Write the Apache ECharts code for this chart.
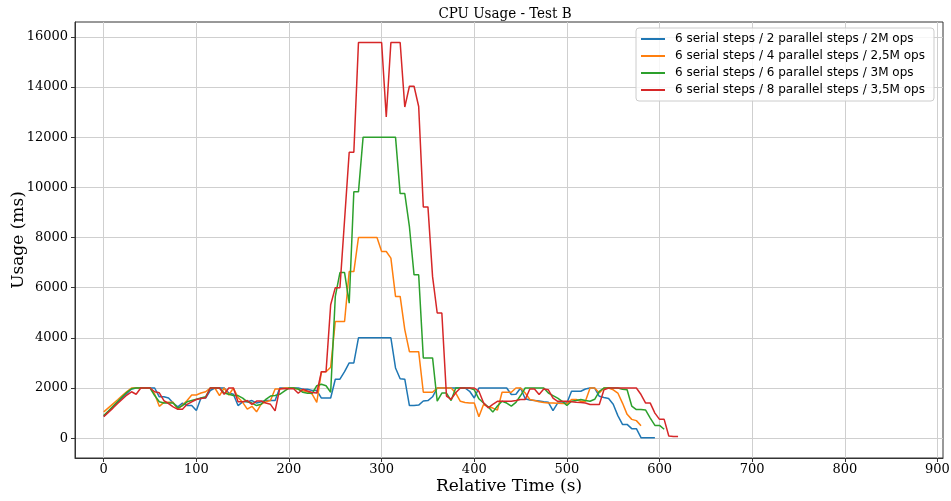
<!DOCTYPE html>
<html>
<head>
<meta charset="utf-8">
<script src="https://cdn.jsdelivr.net/npm/echarts@6/dist/echarts.min.js"></script>
<style>html,body{margin:0;padding:0;background:#fff}#c{width:951px;height:501px}</style>
</head>
<body>
<div id="c"></div>
<script>
const times = [0,5,10,15,20,25,30,35,40,45,50,55,60,65,70,75,80,85,90,95,100,105,110,115,120,125,130,135,140,145,150,155,160,165,170,175,180,185,190,195,200,205,210,215,220,225,230,235,240,245,250,255,260,265,270,275,280,285,290,295,300,305,310,315,320,325,330,335,340,345,350,355,360,365,370,375,380,385,390,395,400,405,410,415,420,425,430,435,440,445,450,455,460,465,470,475,480,485,490,495,500,505,510,515,520,525,530,535,540,545,550,555,560,565,570,575,580,585,590,595,600,605,610,615,620];

const seriesNames = [
  "6 serial steps / 2 parallel steps / 2M ops",
  "6 serial steps / 4 parallel steps / 2,5M ops",
  "6 serial steps / 6 parallel steps / 3M ops",
  "6 serial steps / 8 parallel steps / 3,5M ops"
];

const blue = [870,1050,1240,1420,1600,1780,1960,
  2000,2000,2000,2000,2000,
  1650,1650,1600,1400,1250,1400,1300,1300,1100,
  1600,1600,1900,2000,2000,2000,1800,1750,1300,
  1450,1450,1500,1400,1450,1500,1500,1500,2000,
  2000,2000,2000,2000,1950,1950,1900,1900,1600,
  1600,1600,2350,2350,2650,3000,3000,4000,4000,
  4000,4000,4000,4000,4000,4000,2800,2370,2350,
  1300,1300,1320,1480,1500,1650,2000,2000,2000,
  2000,2000,2000,2000,1870,1600,2000,2000,2000,
  2000,2000,2000,2000,1740,1750,2000,1570,1520,
  1500,1480,1450,1430,1100,1400,1400,1400,1870,
  1870,1870,1960,2000,2000,1670,1620,1580,1350,
  900,550,550,380,380,20,20,20,20];

const orange = [1050,1210,1370,1530,1700,1860,2000,
  2000,2000,2000,2000,1760,
  1270,1430,1430,1430,1160,1320,1500,1720,1720,
  1800,1850,2000,2000,1700,2000,1720,2000,1620,
  1430,1160,1270,1050,1360,1450,1500,1960,1960,
  2000,2000,2000,1950,1890,1850,1760,1430,2650,
  2650,2830,4650,4650,4650,6640,6640,8000,8000,
  8000,8000,8000,7440,7440,7180,5650,5650,4330,
  3450,3450,3450,1830,1830,1830,2000,2000,2000,
  2000,1800,1470,1420,1400,1400,855,1340,1250,
  1200,1120,1830,1830,1830,2000,2000,1800,1540,
  1500,1450,1420,1400,1400,1390,1380,1380,1540,
  1540,1470,1470,2000,2000,1800,2000,2000,1930,
  1800,1400,950,750,700,500];

const green = [900,1080,1270,1460,1650,1830,1970,
  2000,2000,2000,2000,1700,
  1450,1400,1400,1400,1200,1300,1450,1500,1550,
  1600,1650,2000,2000,2000,1800,1750,1700,1700,
  1600,1450,1400,1300,1350,1550,1680,1700,1750,
  1880,2000,2000,1960,1830,1790,1790,2090,2150,
  2090,1830,5650,6600,6600,5380,9820,9820,12000,
  12000,12000,12000,12000,12000,12000,12000,9750,9750,
  8430,6510,6510,3200,3200,3200,1480,1800,1800,
  1500,2000,2000,2000,2000,1930,1570,1400,1250,
  1040,1280,1470,1400,1280,1430,1700,2000,2000,
  2000,2000,2000,1800,1700,1600,1470,1300,1470,
  1500,1540,1500,1470,1550,1870,2000,2000,2000,
  2000,1950,1930,1280,1140,1140,1120,800,510,510,355];

const red = [860,1030,1200,1380,1550,1720,1850,
  1750,2000,2000,2000,1850,
  1810,1500,1380,1250,1150,1150,1350,1450,1540,
  1580,1610,2000,2000,2000,1750,2000,2000,1450,
  1450,1500,1350,1480,1480,1400,1350,1090,1970,
  1970,1970,1970,1790,1950,1880,1820,1800,2650,
  2650,5320,6000,6000,8700,11400,11400,15770,15770,
  15770,15770,15770,15770,12800,15770,15770,15770,13200,
  14030,14030,13220,9220,9220,6440,4990,4990,1680,
  1550,1810,2000,2000,2000,2000,1870,1410,1210,
  1350,1470,1470,1470,1470,1500,1540,1540,1960,
  1960,1740,1960,1930,1600,1470,1470,1470,1450,
  1430,1420,1400,1340,1340,1340,1930,2000,2000,
  2000,2000,2000,2000,2000,1740,1400,1400,1000,
  750,750,90,65,65];

const xTicks = [0,100,200,300,400,500,600,700,800,900];
const yTicks = [0,2000,4000,6000,8000,10000,12000,14000,16000];
const colors = ['#1f77b4','#ff7f0e','#2ca02c','#d62728'];
const allValues = [blue, orange, green, red];

const chart = echarts.init(document.getElementById('c'), null, {renderer:'canvas'});
const serif = 'DejaVu Serif';
const option = {
  animation: false,
  backgroundColor: '#ffffff',
  color: colors,
  title: {
    text: 'CPU Usage - Test B',
    left: 500, top: 2, textAlign: 'center',
    textStyle: {fontFamily: 'DejaVu Serif Condensed, DejaVu Serif', fontSize: 15, fontWeight: 'normal', color: '#000'}
  },
  legend: {
    orient: 'vertical',
    left: 636, top: 28,
    padding: [4, 9, 4, 5],
    itemGap: 3,
    itemWidth: 24, itemHeight: 2,
    icon: 'rect',
    borderColor: '#cccccc', borderWidth: 1, borderRadius: 3,
    backgroundColor: 'rgba(255,255,255,0.8)',
    textStyle: {fontFamily: 'DejaVu Sans', fontSize: 12, color: '#000', lineHeight: 14, padding: [0,0,0,5]},
    data: seriesNames
  },
  grid: {left: 75, right: 8, top: 22, bottom: 43, containLabel: false, outerBoundsMode: 'none', show: true, borderColor: '#333', borderWidth: 1},
  xAxis: {
    type: 'value', min: -31, max: 906,
    name: 'Relative Time (s)', nameLocation: 'middle', nameGap: 20, nameMoveOverlap: false,
    nameTextStyle: {fontFamily: serif, fontSize: 17, color: '#000'},
    axisLine: {show: true, onZero: false, lineStyle: {color: '#333'}},
    axisTick: {show: true, length: 4, lineStyle: {color: '#333'}, customValues: xTicks},
    axisLabel: {fontFamily: serif, fontSize: 13, color: '#000', margin: 5, customValues: xTicks, formatter: v => String(v)},
    splitLine: {show: true, lineStyle: {color: '#cfcfcf', width: 1}}
  },
  yAxis: {
    type: 'value', min: -790, max: 16590,
    name: 'Usage (ms)', nameLocation: 'middle', nameGap: 48, nameMoveOverlap: false,
    nameTextStyle: {fontFamily: serif, fontSize: 17, color: '#000'},
    axisLine: {show: true, onZero: false, lineStyle: {color: '#333'}},
    axisTick: {show: true, length: 4, lineStyle: {color: '#333'}, customValues: yTicks},
    axisLabel: {fontFamily: serif, fontSize: 13, color: '#000', margin: 7, customValues: yTicks, formatter: v => String(v)},
    splitLine: {show: true, lineStyle: {color: '#cfcfcf', width: 1}}
  },
  series: seriesNames.map((n, i) => ({
    name: n, type: 'line', showSymbol: false, symbol: 'none',
    lineStyle: {width: 1.5, color: colors[i]},
    itemStyle: {color: colors[i]},
    data: allValues[i].map((v, k) => [times[k], v])
  }))
};
chart.setOption(option);
</script>
</body>
</html>
